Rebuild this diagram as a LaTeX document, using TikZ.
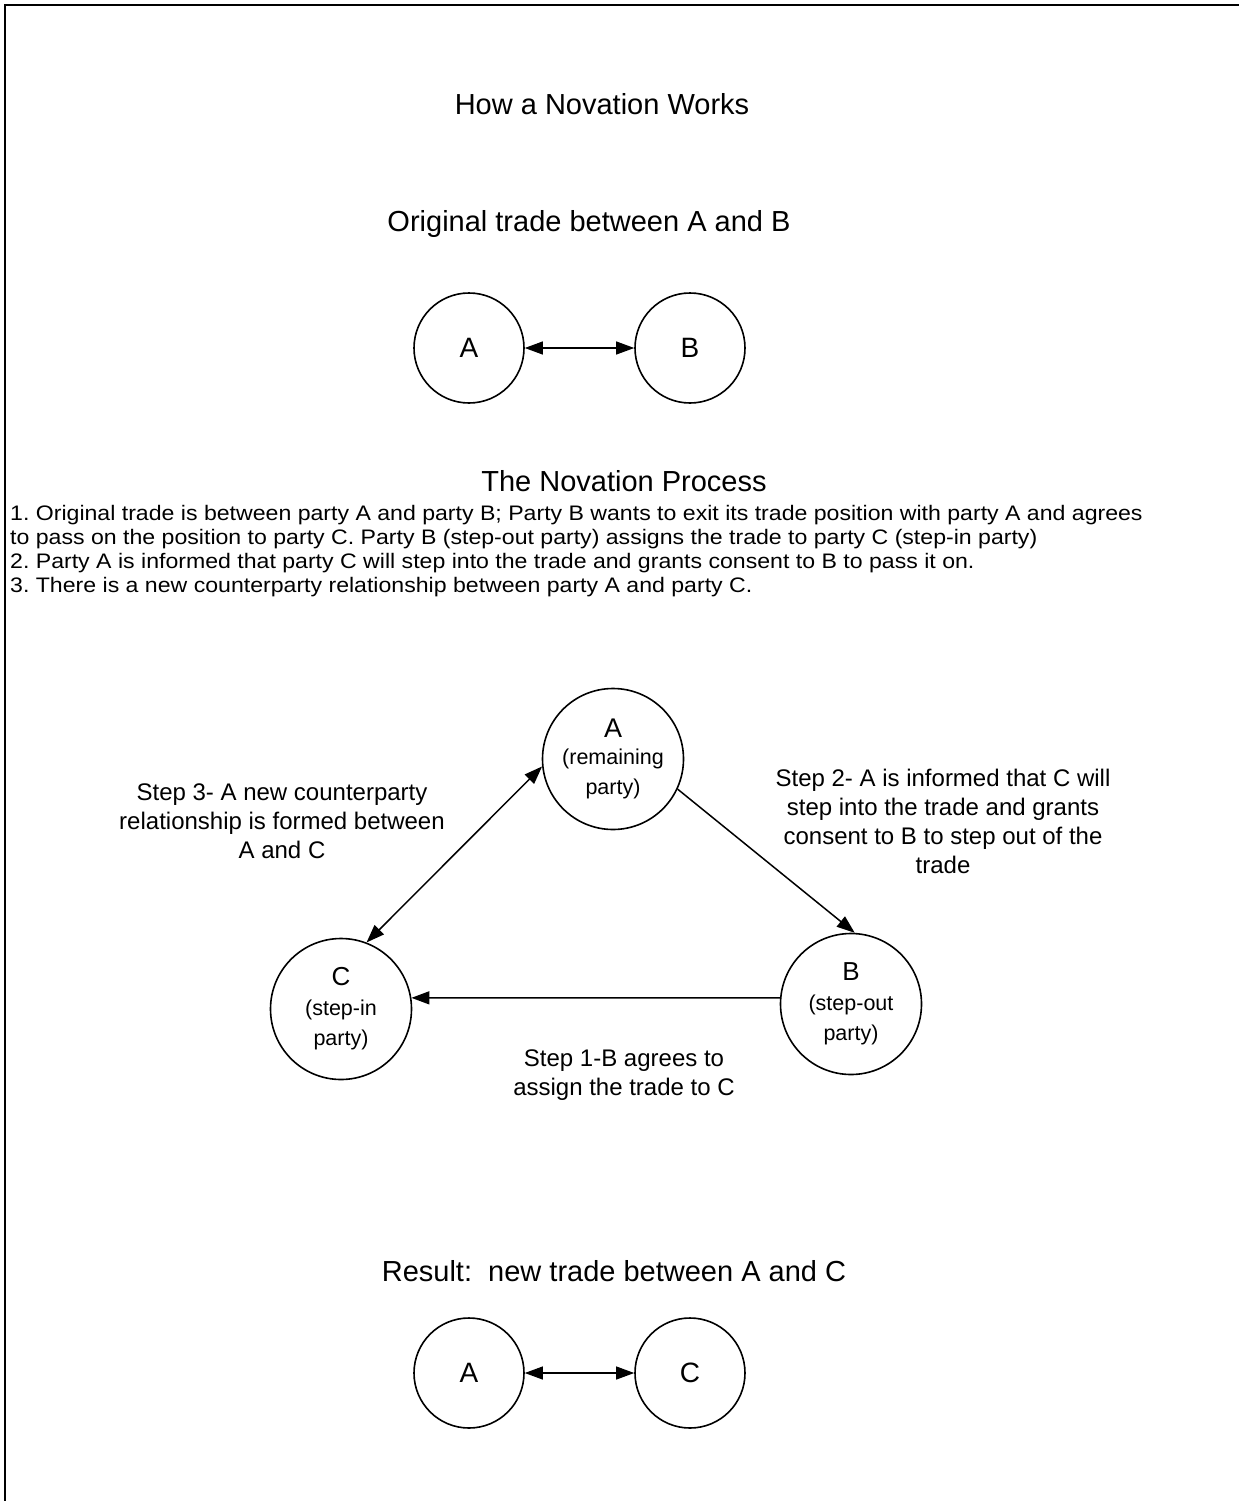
\documentclass[tikz,border=0pt]{standalone}
\usepackage{fontspec}
\setmainfont{Liberation Sans}
\newfontfamily\listfont[FakeStretch=1.1]{Liberation Sans}
\frenchspacing
\usetikzlibrary{arrows.meta}

\begin{document}
\begin{tikzpicture}[x=1pt,y=-1pt,
    party/.style={draw, circle, line width=1.6pt, minimum size=110pt, inner sep=0pt, font=\fontsize{28}{34}\selectfont},
    bigparty/.style={draw, circle, line width=1.6pt, minimum size=141pt, inner sep=0pt, align=center, font=\fontsize{21.5}{30}\selectfont},
    heading/.style={font=\fontsize{29}{35}\selectfont},
    steptext/.style={align=center, font=\fontsize{24}{29}\selectfont},
    link/.style={line width=1.1pt, {Triangle[length=18pt,width=13pt]}-{Triangle[length=18pt,width=13pt]}},
    oneway/.style={line width=1.5pt, -{Triangle[length=18pt,width=13pt]}},
    twoway/.style={line width=1.5pt, {Triangle[length=18pt,width=13pt]}-{Triangle[length=18pt,width=13pt]}}]
  \useasboundingbox (0,0) rectangle (1239,1501);
  \draw [line width=2pt] (5,1501) -- (5,5) -- (1239,5);

  % headings
  \node [heading] (title) at (602,104) {How a Novation Works};
  \node [heading] (orig) at (589,224) {Original trade between A and B};
  \node [heading] (process) at (624,481) {The Novation Process};
  \node [heading] (result) at (614,1271) {Result:\ \ new trade between A and C};

  % original trade
  \node [party] (A1) at (469,348) {A};
  \node [party] (B1) at (690,348) {B};
  \draw [link] (A1) -- (B1);

  % list of steps
  \node [anchor=north west, align=left, inner sep=0pt, font=\listfont\fontsize{21}{24}\selectfont] (steps) at (10,505)
    {1. Original trade is between party A and party B; Party B wants to exit its trade position with party A and agrees\\
     to pass on the position to party C. Party B (step-out party) assigns the trade to party C (step-in party)\\
     2. Party A is informed that party C will step into the trade and grants consent to B to pass it on.\\
     3. There is a new counterparty relationship between party A and party C.};

  % novation triangle
  \node [bigparty] (A2) at (613,759) {{\fontsize{27}{30}\selectfont A}\\[-3pt](remaining\\party)};
  \node [bigparty] (C2) at (341,1009) {{\fontsize{26}{30}\selectfont C}\\(step-in\\party)};
  \node [bigparty] (B2) at (851,1004) {{\fontsize{26}{30}\selectfont B}\\(step-out\\party)};
  \draw [twoway] (A2.186) -- (C2.69);
  \draw [oneway] (A2.-25) -- (B2.87);
  \draw [oneway] (B2.175) -- (C2.9);

  \node [steptext] (step3) at (282,821) {Step 3- A new counterparty\\relationship is formed between\\A and C};
  \node [steptext] (step2) at (943,821) {Step 2- A is informed that C will\\step into the trade and grants\\consent to B to step out of the\\trade};
  \node [steptext] (step1) at (624,1075) {Step 1-B agrees to\\assign the trade to C};

  % result
  \node [party] (A3) at (469,1373) {A};
  \node [party] (C3) at (690,1373) {C};
  \draw [link] (A3) -- (C3);
\end{tikzpicture}
\end{document}
